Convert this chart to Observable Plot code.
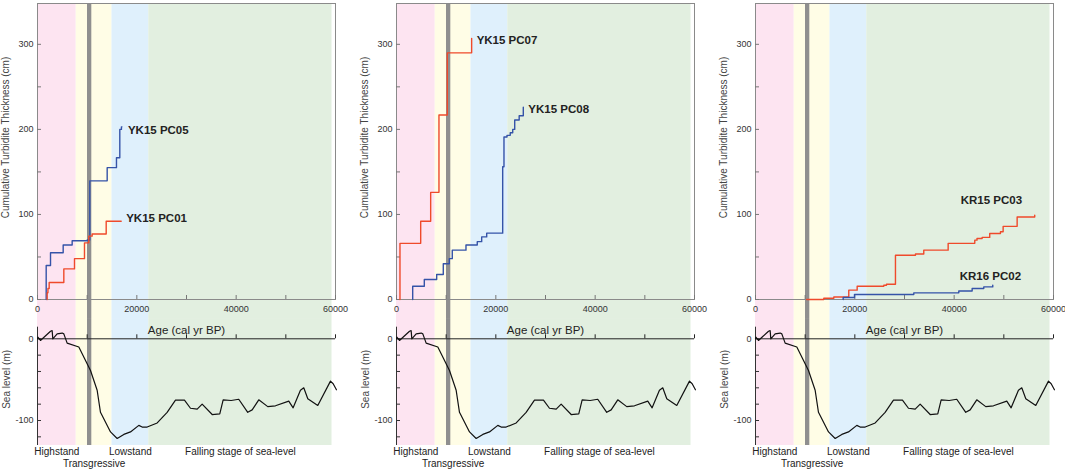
<!DOCTYPE html>
<html><head><meta charset="utf-8">
<script src="https://cdn.jsdelivr.net/npm/d3@7"></script>
<script src="https://cdn.jsdelivr.net/npm/@observablehq/plot@0.6"></script>
<style>
body{margin:0;background:#fff;font-family:"Liberation Sans",Arial,sans-serif;}
#wrap{display:flex;width:1065px;height:475px;overflow:hidden;}
.col{display:flex;flex-direction:column;}
svg{display:block}
</style></head><body><div id="wrap"></div>
<script>
// ---- Data ----
const stageNames = ["Highstand", "Transgressive", "Lowstand", "Falling stage of sea-level"];
const stageStart = [0, 7800, 15000, 22400];
const stageEnd = [7800, 15000, 22400, 59300];
const stageColors = ["#fde4f1", "#fffde6", "#dff0fc", "#e2efe0"];
const greyLineAge = 10400;

const seaAge = [0, 70, 600, 2620, 2950, 3080, 3960, 4970, 5300, 5970, 8320, 10670, 12010, 12680, 14700, 16040, 17380, 18720, 20400, 21070, 22080, 24100, 26100, 27780, 29590, 30800, 32150, 33150, 35170, 36700, 37380, 38990, 40520, 42330, 43220, 44550, 46360, 47910, 50590, 51470, 52940, 53610, 54420, 56430, 58990, 59530, 60190];
const seaLevel = [0, 2, -2, 9.3, 10, 0, 6, 7, 6, -5.3, -10, -38.8, -63, -90, -114, -122, -117, -114, -106, -108, -108, -103, -90, -75, -75, -85, -86, -80, -92.7, -92, -74.7, -75.5, -74, -90, -87, -74.7, -83, -82, -76.3, -84.5, -63, -60, -73.4, -81.6, -51.8, -55, -62.4];

const pc05Age = [1750, 1750, 2620, 5170, 6980, 10000, 10530, 14030, 15900, 16570, 16900, 17000];
const pc05Thick = [0, 40, 55, 64, 69, 70, 139.5, 155, 166.6, 200, 203, 203];
const pc01Age = [1950, 1950, 2100, 2350, 5300, 7450, 9460, 10330, 11000, 13830, 16850];
const pc01Thick = [0, 8, 13, 20, 36, 48, 66.6, 74.5, 77, 92, 92];
const pc07Age = [700, 700, 4870, 6880, 8550, 10230, 15130];
const pc07Thick = [0, 66, 92, 126, 217, 290, 307];
const pc08Age = [3260, 3260, 5600, 8090, 9420, 10630, 11230, 13990, 16260, 17150, 18160, 21380, 21640, 22250, 22900, 23400, 23800, 24700, 25530];
const pc08Thick = [0, 15.6, 23.5, 29.4, 42, 48, 58, 64, 68, 73.6, 78, 156, 191, 193, 196, 200, 211, 216, 226];
const kr15Age = [10300, 13750, 15770, 18780, 20470, 25830, 26370, 28180, 32210, 33880, 38790, 44150, 44600, 45630, 47160, 49320, 49860, 52680, 56220];
const kr15Thick = [0, 1.5, 3, 11, 15.6, 16.8, 18, 52, 53.5, 58, 66, 69.8, 71.7, 73, 77.6, 79.6, 86, 97, 99];
const kr16Age = [17650, 17650, 19930, 31870, 40930, 43620, 45960, 47770];
const kr16Thick = [0, 2.4, 5.9, 7.8, 10, 12.9, 14.8, 16.8];

const ageTicks = [0, 10000, 20000, 30000, 40000, 50000, 60000];
const ageTickLabels = [0, 20000, 40000, 60000];
const thickTicks = [0, 50, 100, 150, 200, 250, 300];
const thickTickLabels = [0, 100, 200, 300];
const seaTicks = [-120, -100, -80, -60, -40, -20, 0];
const seaTickLabels = [-100, 0];

// ---- Build ----
const FONT = '"Liberation Sans", Arial, sans-serif';
const RED = "#ef4a2b", BLUE = "#3553a8";
const zip = (a, b) => a.map((x, i) => ({age: x, v: b[i]}));
const bands = stageNames.map((n, i) => ({name: n, start: stageStart[i], end: stageEnd[i], color: stageColors[i], row: i === 1 ? 1 : 0}));

const panels = [
  {width: 359, mr: 24, series: [
    {name: "YK15 PC05", data: zip(pc05Age, pc05Thick), color: BLUE, dx: 6, dy: 3},
    {name: "YK15 PC01", data: zip(pc01Age, pc01Thick), color: RED, dx: 5, dy: -3}]},
  {width: 359, mr: 24, series: [
    {name: "YK15 PC07", data: zip(pc07Age, pc07Thick), color: RED, dx: 5, dy: 2},
    {name: "YK15 PC08", data: zip(pc08Age, pc08Thick), color: BLUE, dx: 5, dy: 2}]},
  {width: 347, mr: 12, series: [
    {name: "KR15 PC03", data: zip(kr15Age, kr15Thick), color: RED, dx: -74, dy: -15},
    {name: "KR16 PC02", data: zip(kr16Age, kr16Thick), color: BLUE, dx: -33, dy: -8.5}]}
];

const topDomain = [0, 348], topBandLow = -22.4;
const seaDomain = [-130.6, 14.2], seaBandHigh = 24.8;
const sea = zip(seaAge, seaLevel);
const fmt = d => String(d);

function topPlot(p) {
  const marks = [
    Plot.rect(bands, {x1: "start", x2: "end", y1: topBandLow, y2: topDomain[1], fill: "color"}),
    Plot.ruleX([greyLineAge], {y1: topBandLow, y2: topDomain[1], stroke: "#8f8f8f", strokeWidth: 4.3}),
    Plot.frame({stroke: "#8a8a8a"}),
    Plot.axisY(thickTicks, {tickSize: -4, fill: "none", stroke: "#777", label: null}),
    Plot.axisY(thickTickLabels, {tickSize: 0, tickPadding: 4, label: null, fill: "#333", tickFormat: fmt}),
    Plot.axisX(ageTicks, {tickSize: -4, fill: "none", stroke: "#777", label: null}),
    Plot.axisX(ageTickLabels, {tickSize: 0, tickPadding: 6, label: null, fill: "#333", tickFormat: fmt}),
    Plot.text(["Cumulative Turbidite Thickness (cm)"], {frameAnchor: "left", textAnchor: "middle", dx: -31.3, dy: -14, rotate: -90, fontSize: 10, fill: "#444"})
  ];
  for (const s of p.series) {
    marks.push(Plot.line(s.data, {x: "age", y: "v", curve: "step-after", stroke: s.color, strokeWidth: 1.4}));
    marks.push(Plot.text(s.data.slice(-1), {x: "age", y: "v", text: () => s.name, dx: s.dx, dy: s.dy, textAnchor: "start", fontWeight: "bold", fontSize: 11.5, fill: "#222"}));
  }
  return Plot.plot({
    width: p.width, height: 318, marginLeft: 37, marginRight: p.mr, marginTop: 3, marginBottom: 19,
    x: {domain: [0, 60000]}, y: {domain: topDomain}, color: {type: "identity"},
    style: {fontFamily: FONT, fontSize: "9px", color: "#333", background: "transparent", overflow: "visible"},
    marks
  });
}

function seaPlot(p) {
  return Plot.plot({
    width: p.width, height: 157, marginLeft: 37, marginRight: p.mr, marginTop: 8.7, marginBottom: 30,
    x: {domain: [0, 60000], axis: null}, y: {domain: seaDomain}, color: {type: "identity"},
    style: {fontFamily: FONT, fontSize: "9px", color: "#333", background: "transparent", overflow: "visible"},
    marks: [
      Plot.rect(bands, {x1: "start", x2: "end", y1: seaDomain[0], y2: seaBandHigh, fill: "color"}),
      Plot.ruleX([greyLineAge], {y1: seaDomain[0], y2: seaBandHigh, stroke: "#8f8f8f", strokeWidth: 4.3}),
      Plot.ruleY([0], {stroke: "#222"}),
      Plot.ruleX(ageTicks, {y1: 0, y2: 0, insetTop: -4, stroke: "#222"}),
      Plot.ruleX([0], {stroke: "#333"}),
      Plot.axisY(seaTicks, {tickSize: -4, fill: "none", stroke: "#333", label: null}),
      Plot.axisY(seaTickLabels, {tickSize: 0, tickPadding: 4, label: null, fill: "#333", tickFormat: fmt}),
      Plot.line(sea, {x: "age", y: "v", stroke: "#111", strokeWidth: 1.2}),
      Plot.text(["Age (cal yr BP)"], {frameAnchor: "top", dy: -1.7, fontSize: 11.5, fill: "#222"}),
      Plot.text(["Sea level (m)"], {frameAnchor: "left", textAnchor: "middle", dx: -31, dy: -7, rotate: -90, fontSize: 10, fill: "#444"}),
      Plot.text(bands.filter(d => d.row === 0), {x: d => (d.start + d.end) / 2, text: "name", frameAnchor: "bottom", dy: 9, fontSize: 10, fill: "#222"}),
      Plot.text(bands.filter(d => d.row === 1), {x: d => (d.start + d.end) / 2, text: "name", frameAnchor: "bottom", dy: 21.7, fontSize: 10, fill: "#222"})
    ]
  });
}

const wrap = document.getElementById("wrap");
for (const p of panels) {
  const col = document.createElement("div");
  col.className = "col";
  col.style.width = p.width + "px";
  col.appendChild(topPlot(p));
  col.appendChild(seaPlot(p));
  wrap.appendChild(col);
}
</script></body></html>
